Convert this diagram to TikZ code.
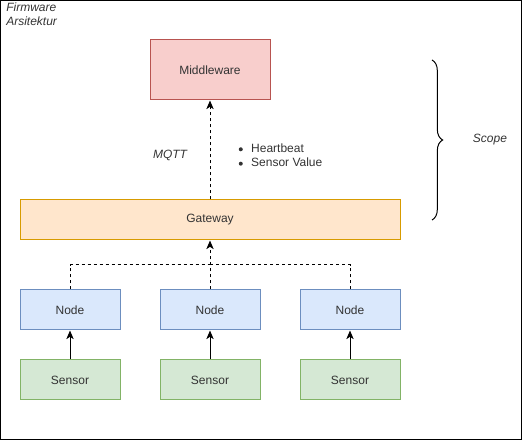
\documentclass[tikz,border=0pt]{standalone}
\usepackage{fontspec}
\setmainfont{Liberation Sans}
\usetikzlibrary{arrows.meta,decorations.pathreplacing}
\definecolor{txt}{HTML}{333333}
\definecolor{redfill}{HTML}{F8CECC}\definecolor{redline}{HTML}{B85450}
\definecolor{orfill}{HTML}{FFE6CC}\definecolor{orline}{HTML}{D79B00}
\definecolor{bluefill}{HTML}{DAE8FC}\definecolor{blueline}{HTML}{6C8EBF}
\definecolor{grfill}{HTML}{D5E8D4}\definecolor{grline}{HTML}{82B366}
\tikzset{
  box/.style={draw, line width=0.75pt, minimum height=30pt, inner sep=0pt,
    font=\fontsize{9}{10.5}\selectfont, text=txt},
  mwbox/.style={box, fill=redfill, draw=redline, minimum width=90pt, minimum height=45pt},
  gwbox/.style={box, fill=orfill, draw=orline, minimum width=285pt},
  nodebox/.style={box, fill=bluefill, draw=blueline, minimum width=75pt},
  sensbox/.style={box, fill=grfill, draw=grline, minimum width=75pt},
  link/.style={line width=0.75pt, -{Stealth[length=6.5pt,width=5.5pt,inset=1.8pt]}},
  dlink/.style={link, dash pattern=on 2.25pt off 2.25pt},
  lbl/.style={font=\fontsize{9}{10.5}\selectfont, text=txt, inner sep=0pt},
}
\newcommand{\dotmark}{\raisebox{0.6pt}{\tikz\fill (0,0) circle (1.5pt);}}
\begin{document}
\begin{tikzpicture}[x=0.75pt, y=-0.75pt]
\useasboundingbox (0,0) rectangle (522,441);
% outer frame
\draw[line width=0.75pt] (0.5,0.5) rectangle (521,440);
\node[lbl, font=\fontsize{9}{10.5}\selectfont\itshape, anchor=north west, align=left]
  (title) at (6,2.5) {Firmware\\Arsitektur};

% boxes
\node[mwbox] (mw) at (210,70) {Middleware};
\node[gwbox] (gw) at (210,220) {Gateway};
\node[nodebox] (n1) at (70,310) {Node};
\node[nodebox] (n2) at (210,310) {Node};
\node[nodebox] (n3) at (350,310) {Node};
\node[sensbox] (s1) at (70,380) {Sensor};
\node[sensbox] (s2) at (210,380) {Sensor};
\node[sensbox] (s3) at (350,380) {Sensor};

% sensors to nodes
\draw[link] (s1) -- (n1);
\draw[link] (s2) -- (n2);
\draw[link] (s3) -- (n3);

% nodes to gateway
\coordinate (join) at (210,265);
\draw[line width=0.75pt, dash pattern=on 2.25pt off 2.25pt] (n1.north) |- (join);
\draw[line width=0.75pt, dash pattern=on 2.25pt off 2.25pt] (n3.north) |- (join);
\draw[dlink] (n2.north) -- (gw.south);

% gateway to middleware
\draw[dlink] (gw.north) -- (mw.south);
\node[lbl, font=\fontsize{9}{10.5}\selectfont\itshape] (mqtt) at (170,155) {MQTT};
\node[lbl, anchor=west, align=left] (payload) at (238.5,155)
  {\dotmark\hspace{6.3pt}Heartbeat\\[0.3pt]\dotmark\hspace{6.3pt}Sensor Value};

% scope brace
\coordinate (bt) at (432,60);
\coordinate (bb) at (432,220);
\draw[line width=0.75pt, decorate, decoration={brace, amplitude=8pt, raise=0pt}]
  (bt) -- (bb);
\node[lbl, font=\fontsize{9}{10.5}\selectfont\itshape] (scope) at (490,140) {Scope};
\end{tikzpicture}
\end{document}
